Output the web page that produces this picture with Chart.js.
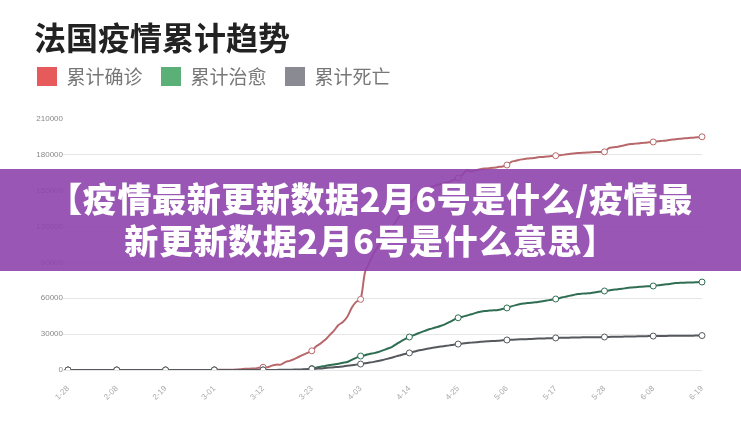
<!DOCTYPE html>
<html><head><meta charset="utf-8">
<script src="https://cdn.jsdelivr.net/npm/chart.js@4.4.0/dist/chart.umd.min.js"></script>
<style>
html,body{margin:0;padding:0;background:#fff;}
#wrap{position:relative;width:741px;height:440px;overflow:hidden;background:#fff;}
#c{position:absolute;left:0;top:0;}
#banner{position:absolute;left:0;top:169px;width:741px;height:102px;background:rgba(142,68,173,0.9);color:#fff;font-family:'Noto Sans CJK SC',sans-serif;font-weight:900;font-size:34px;letter-spacing:0.6px;line-height:42px;text-align:center;box-sizing:border-box;padding-top:8px;white-space:nowrap;}
</style></head><body>
<div id="wrap"><canvas id="c" width="741" height="440"></canvas>
<div id="banner">【疫情最新更新数据2月6号是什么/疫情最<br>新更新数据2月6号是什么意思】</div></div>
<script>
const chartTitle = '法国疫情累计趋势';
const seriesNames = ['累计确诊', '累计治愈', '累计死亡'];
const tickLabels = ['1-28','2-08','2-19','3-01','3-12','3-23','4-03','4-14','4-25','5-06','5-17','5-28','6-08','6-19'];
const yTicks = [0, 30000, 60000, 90000, 120000, 150000, 180000, 210000];

const confirmed = [
3,4,5,5,5,6,6,6,6,6,6,6,
11,11,11,11,11,11,12,12,12,12,12,
12,12,12,12,12,12,14,18,38,57,
100,130,191,204,288,380,656,957,1134,1217,1792,2289,
2289,3672,4480,4513,6650,7652,9043,10871,12612,14282,16018,
19856,22304,25233,29155,32964,37575,40174,44550,52128,56989,59105,
82000,90000,98000,104000,110000,114500,119000,124500,129500,133500,138500,
143000,146500,148500,150500,153000,154500,155500,156500,157300,159000,160600,
163500,167300,166000,167000,168000,168500,168700,169200,169800,170300,171500,
174200,175000,176000,176600,177000,177400,178000,178200,178700,179000,179300,
179700,180200,180800,181200,181500,181700,181900,182100,182300,182400,182500,
185600,186300,186800,187600,188400,189000,189400,189800,190200,190500,190800,
191300,191700,192100,192600,193100,193500,193800,194100,194400,194700,195100
];
const recovered = [
0,0,0,0,0,0,0,0,0,0,0,0,
0,0,0,0,1,1,2,2,2,2,4,
4,4,4,4,4,4,11,11,11,11,
12,12,12,12,12,12,12,12,12,12,12,12,
12,12,12,12,12,12,12,12,12,600,1200,
2000,2800,3400,4200,4600,5300,6000,6700,8500,10200,11700,
12400,13400,14100,15000,16400,17800,19200,21500,23800,25800,27600,
29200,30700,32100,33500,34600,35700,36800,38200,40000,42000,43700,
44600,45600,46600,47800,48700,49400,49700,49900,50200,51000,51900,
53200,54300,55200,55700,56100,56500,56900,57500,58100,58800,59400,
60300,61200,62000,62800,63600,63900,64100,64400,65000,65600,66100,
66600,67100,67600,68000,68600,69000,69300,69600,69900,70100,70300,
70800,71300,71700,72200,72700,72900,73100,73200,73300,73450,73600
];
const deaths = [
0,0,0,0,0,0,0,0,0,0,0,0,
0,0,0,0,0,1,1,1,1,1,1,
1,1,1,1,1,1,2,2,2,2,
2,3,4,4,6,9,11,19,19,33,48,48,
79,91,91,148,148,244,372,450,562,674,860,
1100,1331,1696,1995,2314,2606,3024,3500,4000,4500,5000,
5600,6200,6800,7500,8400,9300,10300,11400,12400,13400,14300,
15200,16300,17000,17700,18400,19000,19600,20100,20600,21200,21700,
22100,22500,22900,23300,23600,23900,24100,24300,24500,24800,25100,
25300,25500,25700,25800,25900,26100,26300,26400,26500,26650,26800,
26900,27000,27050,27150,27200,27300,27350,27400,27450,27500,27600,
27700,27800,27850,27900,27950,28000,28100,28200,28250,28350,28400,
28450,28500,28550,28600,28650,28680,28700,28720,28750,28780,28800
];

// daily category labels from 1-28 onward
const categories = [];
for (let d = new Date(2020, 0, 28); categories.length < confirmed.length; d.setDate(d.getDate() + 1)) {
  categories.push((d.getMonth() + 1) + '-' + String(d.getDate()).padStart(2, '0'));
}

const lineColors = ['#b8686b', '#2f6e52', '#55595d'];
const swatchColors = ['#e65a5c', '#5bb077', '#8a8a92'];
const CJK = "'Noto Sans CJK SC','Noto Sans',sans-serif";
const LAT = "'Liberation Sans',Arial,sans-serif";

const posFix = {
  id: 'posFix',
  afterLayout(chart) {
    if (chart.titleBlock) { chart.titleBlock.left = 34; chart.titleBlock.top = 19; }
    if (chart.legend) { chart.legend.top = 48.5; }
  }
};

function mkDs(i, data, order) {
  return {
    label: seriesNames[i], data: data,
    borderColor: lineColors[i], backgroundColor: '#fff', borderWidth: 2,
    pointRadius: ctx => tickLabels.includes(categories[ctx.dataIndex]) ? 3 : 0,
    pointBackgroundColor: '#fff', pointBorderColor: lineColors[i], pointBorderWidth: 1,
    tension: 0.3, order: order, fill: false
  };
}

new Chart(document.getElementById('c'), {
  type: 'line',
  data: { labels: categories, datasets: [mkDs(0, confirmed, 2), mkDs(1, recovered, 1), mkDs(2, deaths, 0)] },
  plugins: [posFix],
  options: {
    responsive: false, animation: false,
    layout: { padding: { left: 18.5, right: 39, top: 33.1, bottom: 0 } },
    plugins: {
      tooltip: { enabled: false },
      title: { display: true, text: chartTitle, align: 'start', color: '#222',
        font: { family: CJK, size: 32, weight: 'bold', lineHeight: 1.2 }, padding: { top: 0, bottom: 0 } },
      legend: { display: true, align: 'start',
        labels: { boxWidth: 20, boxHeight: 19, padding: 18.5, color: '#777',
          font: { family: CJK, size: 19 },
          generateLabels: chart => chart.data.datasets.map((ds, i) => ({
            text: ds.label, fillStyle: swatchColors[i], strokeStyle: swatchColors[i], lineWidth: 0,
            hidden: !chart.isDatasetVisible(i), datasetIndex: i, fontColor: '#777'
          }))
        }
      }
    },
    scales: {
      x: {
        type: 'category',
        grid: { display: false }, border: { display: false },
        afterFit: s => { s.height = 70; },
        ticks: { autoSkip: false, minRotation: 45, maxRotation: 45, padding: 6, color: '#aaa',
          font: { family: LAT, size: 8 },
          callback: function (v, i) { const l = categories[i]; return tickLabels.includes(l) ? l : null; } }
      },
      y: {
        min: yTicks[0], max: yTicks[yTicks.length - 1],
        afterBuildTicks: s => { s.ticks = yTicks.map(v => ({ value: v })); },
        afterFit: s => { s.width = 49.5; },
        border: { display: false },
        grid: { color: ctx => (ctx.tick && ctx.tick.value === 210000) ? 'rgba(0,0,0,0)' : '#e6e6e6', tickLength: 5, lineWidth: 1 },
        ticks: { padding: 0, color: '#888', font: { family: LAT, size: 8 }, callback: v => String(v) }
      }
    }
  }
});
</script>
</body></html>
